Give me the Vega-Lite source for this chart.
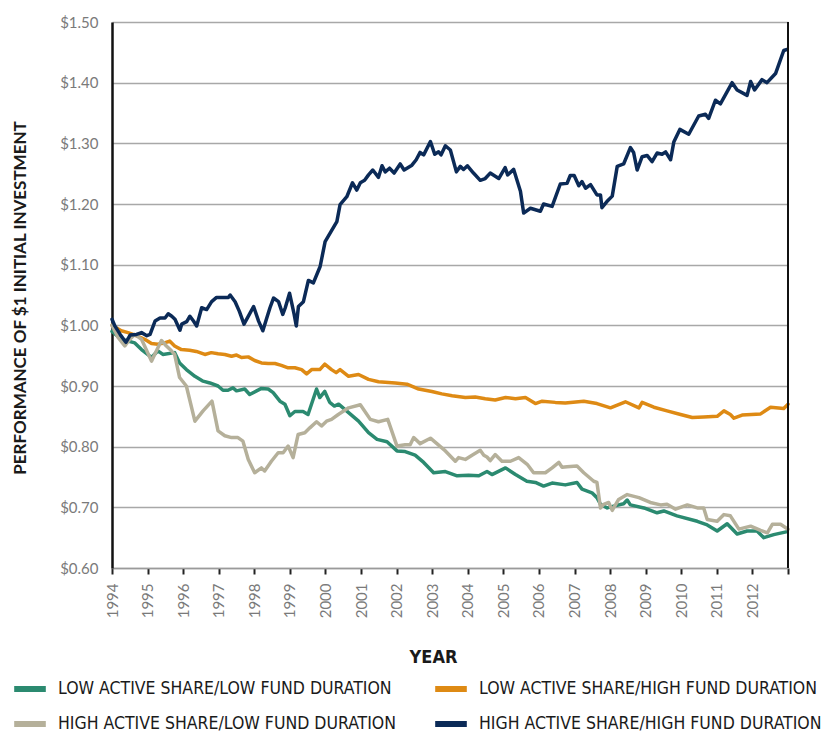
{
  "$schema": "https://vega.github.io/schema/vega-lite/v6.json",
  "width": 676,
  "height": 546,
  "autosize": {"type": "none"},
  "padding": {"left": 112, "top": 22, "right": 49, "bottom": 164},
  "background": "white",
  "config": {
    "view": {"stroke": null},
    "font": "Lato",
    "axisX": {"labelOverlap": false, "labelFlush": false, "labelBound": false}
  },
  "datasets": {
    "lines": [
      {"s":"LL","t":1994.0,"v":0.99},{"s":"LL","t":1994.26,"v":0.977},{"s":"LL","t":1994.64,"v":0.971},{"s":"LL","t":1994.83,"v":0.96},{"s":"LL","t":1995.11,"v":0.947},{"s":"LL","t":1995.29,"v":0.958},{"s":"LL","t":1995.43,"v":0.952},{"s":"LL","t":1995.76,"v":0.955},{"s":"LL","t":1995.9,"v":0.938},{"s":"LL","t":1996.09,"v":0.927},{"s":"LL","t":1996.33,"v":0.916},{"s":"LL","t":1996.56,"v":0.908},{"s":"LL","t":1996.75,"v":0.905},{"s":"LL","t":1996.98,"v":0.9},{"s":"LL","t":1997.12,"v":0.893},{"s":"LL","t":1997.26,"v":0.893},{"s":"LL","t":1997.4,"v":0.897},{"s":"LL","t":1997.5,"v":0.892},{"s":"LL","t":1997.73,"v":0.895},{"s":"LL","t":1997.87,"v":0.886},{"s":"LL","t":1998.2,"v":0.896},{"s":"LL","t":1998.39,"v":0.895},{"s":"LL","t":1998.53,"v":0.889},{"s":"LL","t":1998.72,"v":0.875},{"s":"LL","t":1998.86,"v":0.87},{"s":"LL","t":1999.0,"v":0.851},{"s":"LL","t":1999.14,"v":0.858},{"s":"LL","t":1999.37,"v":0.858},{"s":"LL","t":1999.51,"v":0.853},{"s":"LL","t":1999.75,"v":0.895},{"s":"LL","t":1999.84,"v":0.881},{"s":"LL","t":1999.98,"v":0.891},{"s":"LL","t":2000.12,"v":0.873},{"s":"LL","t":2000.25,"v":0.867},{"s":"LL","t":2000.37,"v":0.87},{"s":"LL","t":2000.65,"v":0.856},{"s":"LL","t":2000.93,"v":0.842},{"s":"LL","t":2001.21,"v":0.823},{"s":"LL","t":2001.45,"v":0.812},{"s":"LL","t":2001.73,"v":0.808},{"s":"LL","t":2002.01,"v":0.793},{"s":"LL","t":2002.24,"v":0.792},{"s":"LL","t":2002.52,"v":0.786},{"s":"LL","t":2002.76,"v":0.774},{"s":"LL","t":2003.04,"v":0.757},{"s":"LL","t":2003.37,"v":0.759},{"s":"LL","t":2003.7,"v":0.752},{"s":"LL","t":2004.02,"v":0.753},{"s":"LL","t":2004.31,"v":0.752},{"s":"LL","t":2004.54,"v":0.759},{"s":"LL","t":2004.68,"v":0.754},{"s":"LL","t":2005.06,"v":0.765},{"s":"LL","t":2005.34,"v":0.754},{"s":"LL","t":2005.66,"v":0.743},{"s":"LL","t":2005.9,"v":0.741},{"s":"LL","t":2006.13,"v":0.735},{"s":"LL","t":2006.37,"v":0.74},{"s":"LL","t":2006.74,"v":0.737},{"s":"LL","t":2007.07,"v":0.741},{"s":"LL","t":2007.21,"v":0.73},{"s":"LL","t":2007.49,"v":0.724},{"s":"LL","t":2007.63,"v":0.716},{"s":"LL","t":2007.73,"v":0.705},{"s":"LL","t":2007.92,"v":0.699},{"s":"LL","t":2008.1,"v":0.702},{"s":"LL","t":2008.38,"v":0.706},{"s":"LL","t":2008.48,"v":0.712},{"s":"LL","t":2008.57,"v":0.704},{"s":"LL","t":2008.95,"v":0.699},{"s":"LL","t":2009.32,"v":0.691},{"s":"LL","t":2009.51,"v":0.694},{"s":"LL","t":2009.88,"v":0.686},{"s":"LL","t":2010.45,"v":0.677},{"s":"LL","t":2010.73,"v":0.671},{"s":"LL","t":2011.01,"v":0.661},{"s":"LL","t":2011.29,"v":0.673},{"s":"LL","t":2011.57,"v":0.656},{"s":"LL","t":2011.85,"v":0.661},{"s":"LL","t":2012.13,"v":0.661},{"s":"LL","t":2012.32,"v":0.65},{"s":"LL","t":2012.6,"v":0.655},{"s":"LL","t":2012.98,"v":0.66},

      {"s":"LH","t":1994.0,"v":1.0},{"s":"LH","t":1994.26,"v":0.991},{"s":"LH","t":1994.45,"v":0.988},{"s":"LH","t":1994.73,"v":0.982},{"s":"LH","t":1994.92,"v":0.977},{"s":"LH","t":1995.11,"v":0.97},{"s":"LH","t":1995.29,"v":0.969},{"s":"LH","t":1995.48,"v":0.971},{"s":"LH","t":1995.62,"v":0.974},{"s":"LH","t":1995.76,"v":0.966},{"s":"LH","t":1995.95,"v":0.96},{"s":"LH","t":1996.18,"v":0.959},{"s":"LH","t":1996.37,"v":0.957},{"s":"LH","t":1996.61,"v":0.952},{"s":"LH","t":1996.79,"v":0.955},{"s":"LH","t":1996.98,"v":0.953},{"s":"LH","t":1997.17,"v":0.952},{"s":"LH","t":1997.36,"v":0.949},{"s":"LH","t":1997.5,"v":0.951},{"s":"LH","t":1997.64,"v":0.947},{"s":"LH","t":1997.83,"v":0.948},{"s":"LH","t":1998.01,"v":0.942},{"s":"LH","t":1998.2,"v":0.938},{"s":"LH","t":1998.39,"v":0.937},{"s":"LH","t":1998.58,"v":0.937},{"s":"LH","t":1998.76,"v":0.934},{"s":"LH","t":1998.95,"v":0.93},{"s":"LH","t":1999.14,"v":0.93},{"s":"LH","t":1999.33,"v":0.927},{"s":"LH","t":1999.47,"v":0.92},{"s":"LH","t":1999.61,"v":0.927},{"s":"LH","t":1999.84,"v":0.927},{"s":"LH","t":1999.98,"v":0.936},{"s":"LH","t":2000.17,"v":0.927},{"s":"LH","t":2000.3,"v":0.922},{"s":"LH","t":2000.41,"v":0.927},{"s":"LH","t":2000.65,"v":0.916},{"s":"LH","t":2000.93,"v":0.919},{"s":"LH","t":2001.21,"v":0.911},{"s":"LH","t":2001.49,"v":0.907},{"s":"LH","t":2001.96,"v":0.905},{"s":"LH","t":2002.29,"v":0.903},{"s":"LH","t":2002.62,"v":0.895},{"s":"LH","t":2002.99,"v":0.891},{"s":"LH","t":2003.27,"v":0.887},{"s":"LH","t":2003.56,"v":0.884},{"s":"LH","t":2003.93,"v":0.881},{"s":"LH","t":2004.21,"v":0.882},{"s":"LH","t":2004.49,"v":0.879},{"s":"LH","t":2004.77,"v":0.877},{"s":"LH","t":2005.06,"v":0.881},{"s":"LH","t":2005.34,"v":0.879},{"s":"LH","t":2005.62,"v":0.881},{"s":"LH","t":2005.9,"v":0.871},{"s":"LH","t":2006.09,"v":0.875},{"s":"LH","t":2006.46,"v":0.873},{"s":"LH","t":2006.74,"v":0.872},{"s":"LH","t":2007.26,"v":0.875},{"s":"LH","t":2007.63,"v":0.871},{"s":"LH","t":2008.01,"v":0.864},{"s":"LH","t":2008.43,"v":0.874},{"s":"LH","t":2008.81,"v":0.864},{"s":"LH","t":2008.9,"v":0.873},{"s":"LH","t":2009.23,"v":0.865},{"s":"LH","t":2009.6,"v":0.859},{"s":"LH","t":2009.98,"v":0.853},{"s":"LH","t":2010.31,"v":0.848},{"s":"LH","t":2010.63,"v":0.849},{"s":"LH","t":2011.01,"v":0.85},{"s":"LH","t":2011.2,"v":0.859},{"s":"LH","t":2011.38,"v":0.853},{"s":"LH","t":2011.48,"v":0.847},{"s":"LH","t":2011.71,"v":0.852},{"s":"LH","t":2012.23,"v":0.854},{"s":"LH","t":2012.51,"v":0.865},{"s":"LH","t":2012.88,"v":0.863},{"s":"LH","t":2013.0,"v":0.87},

      {"s":"HL","t":1994.0,"v":1.0},{"s":"HL","t":1994.17,"v":0.98},{"s":"HL","t":1994.36,"v":0.966},{"s":"HL","t":1994.5,"v":0.977},{"s":"HL","t":1994.64,"v":0.985},{"s":"HL","t":1994.83,"v":0.977},{"s":"HL","t":1995.11,"v":0.941},{"s":"HL","t":1995.25,"v":0.958},{"s":"HL","t":1995.39,"v":0.975},{"s":"HL","t":1995.53,"v":0.966},{"s":"HL","t":1995.67,"v":0.958},{"s":"HL","t":1995.76,"v":0.952},{"s":"HL","t":1995.9,"v":0.914},{"s":"HL","t":1996.09,"v":0.9},{"s":"HL","t":1996.33,"v":0.842},{"s":"HL","t":1996.56,"v":0.859},{"s":"HL","t":1996.81,"v":0.875},{"s":"HL","t":1996.98,"v":0.826},{"s":"HL","t":1997.17,"v":0.818},{"s":"HL","t":1997.36,"v":0.815},{"s":"HL","t":1997.54,"v":0.815},{"s":"HL","t":1997.68,"v":0.809},{"s":"HL","t":1997.83,"v":0.779},{"s":"HL","t":1998.01,"v":0.757},{"s":"HL","t":1998.2,"v":0.765},{"s":"HL","t":1998.29,"v":0.76},{"s":"HL","t":1998.48,"v":0.776},{"s":"HL","t":1998.67,"v":0.79},{"s":"HL","t":1998.81,"v":0.79},{"s":"HL","t":1998.95,"v":0.801},{"s":"HL","t":1999.09,"v":0.782},{"s":"HL","t":1999.23,"v":0.82},{"s":"HL","t":1999.42,"v":0.823},{"s":"HL","t":1999.56,"v":0.831},{"s":"HL","t":1999.75,"v":0.841},{"s":"HL","t":1999.89,"v":0.834},{"s":"HL","t":2000.03,"v":0.842},{"s":"HL","t":2000.17,"v":0.845},{"s":"HL","t":2000.36,"v":0.853},{"s":"HL","t":2000.65,"v":0.864},{"s":"HL","t":2000.98,"v":0.869},{"s":"HL","t":2001.26,"v":0.845},{"s":"HL","t":2001.49,"v":0.841},{"s":"HL","t":2001.75,"v":0.845},{"s":"HL","t":2002.01,"v":0.801},{"s":"HL","t":2002.24,"v":0.803},{"s":"HL","t":2002.38,"v":0.803},{"s":"HL","t":2002.48,"v":0.815},{"s":"HL","t":2002.66,"v":0.805},{"s":"HL","t":2002.95,"v":0.814},{"s":"HL","t":2003.37,"v":0.793},{"s":"HL","t":2003.65,"v":0.776},{"s":"HL","t":2003.74,"v":0.782},{"s":"HL","t":2003.93,"v":0.779},{"s":"HL","t":2004.12,"v":0.786},{"s":"HL","t":2004.35,"v":0.794},{"s":"HL","t":2004.45,"v":0.786},{"s":"HL","t":2004.54,"v":0.783},{"s":"HL","t":2004.63,"v":0.777},{"s":"HL","t":2004.77,"v":0.787},{"s":"HL","t":2004.96,"v":0.776},{"s":"HL","t":2005.2,"v":0.776},{"s":"HL","t":2005.43,"v":0.782},{"s":"HL","t":2005.67,"v":0.771},{"s":"HL","t":2005.85,"v":0.757},{"s":"HL","t":2006.18,"v":0.757},{"s":"HL","t":2006.37,"v":0.765},{"s":"HL","t":2006.56,"v":0.774},{"s":"HL","t":2006.65,"v":0.766},{"s":"HL","t":2006.79,"v":0.767},{"s":"HL","t":2007.07,"v":0.768},{"s":"HL","t":2007.26,"v":0.757},{"s":"HL","t":2007.54,"v":0.743},{"s":"HL","t":2007.63,"v":0.741},{"s":"HL","t":2007.73,"v":0.699},{"s":"HL","t":2007.82,"v":0.705},{"s":"HL","t":2007.96,"v":0.708},{"s":"HL","t":2008.06,"v":0.695},{"s":"HL","t":2008.24,"v":0.713},{"s":"HL","t":2008.48,"v":0.721},{"s":"HL","t":2008.81,"v":0.716},{"s":"HL","t":2009.13,"v":0.708},{"s":"HL","t":2009.42,"v":0.704},{"s":"HL","t":2009.6,"v":0.705},{"s":"HL","t":2009.84,"v":0.697},{"s":"HL","t":2010.17,"v":0.704},{"s":"HL","t":2010.45,"v":0.699},{"s":"HL","t":2010.63,"v":0.699},{"s":"HL","t":2010.73,"v":0.68},{"s":"HL","t":2011.01,"v":0.677},{"s":"HL","t":2011.2,"v":0.688},{"s":"HL","t":2011.38,"v":0.686},{"s":"HL","t":2011.62,"v":0.664},{"s":"HL","t":2011.95,"v":0.669},{"s":"HL","t":2012.23,"v":0.662},{"s":"HL","t":2012.42,"v":0.658},{"s":"HL","t":2012.56,"v":0.672},{"s":"HL","t":2012.79,"v":0.672},{"s":"HL","t":2013.0,"v":0.664},

      {"s":"HH","t":1994.0,"v":1.01},{"s":"HH","t":1994.08,"v":0.999},{"s":"HH","t":1994.23,"v":0.985},{"s":"HH","t":1994.39,"v":0.972},{"s":"HH","t":1994.51,"v":0.984},{"s":"HH","t":1994.69,"v":0.985},{"s":"HH","t":1994.83,"v":0.988},{"s":"HH","t":1994.98,"v":0.983},{"s":"HH","t":1995.07,"v":0.985},{"s":"HH","t":1995.21,"v":1.007},{"s":"HH","t":1995.35,"v":1.012},{"s":"HH","t":1995.49,"v":1.012},{"s":"HH","t":1995.58,"v":1.019},{"s":"HH","t":1995.68,"v":1.015},{"s":"HH","t":1995.77,"v":1.01},{"s":"HH","t":1995.91,"v":0.992},{"s":"HH","t":1995.96,"v":1.002},{"s":"HH","t":1996.1,"v":1.006},{"s":"HH","t":1996.19,"v":1.015},{"s":"HH","t":1996.29,"v":1.007},{"s":"HH","t":1996.38,"v":0.999},{"s":"HH","t":1996.52,"v":1.029},{"s":"HH","t":1996.66,"v":1.026},{"s":"HH","t":1996.8,"v":1.039},{"s":"HH","t":1996.94,"v":1.046},{"s":"HH","t":1997.13,"v":1.046},{"s":"HH","t":1997.27,"v":1.046},{"s":"HH","t":1997.32,"v":1.05},{"s":"HH","t":1997.46,"v":1.039},{"s":"HH","t":1997.58,"v":1.023},{"s":"HH","t":1997.71,"v":1.002},{"s":"HH","t":1997.86,"v":1.018},{"s":"HH","t":1997.98,"v":1.031},{"s":"HH","t":1998.12,"v":1.007},{"s":"HH","t":1998.24,"v":0.991},{"s":"HH","t":1998.35,"v":1.012},{"s":"HH","t":1998.44,"v":1.029},{"s":"HH","t":1998.54,"v":1.045},{"s":"HH","t":1998.68,"v":1.039},{"s":"HH","t":1998.8,"v":1.018},{"s":"HH","t":1998.87,"v":1.029},{"s":"HH","t":1998.99,"v":1.053},{"s":"HH","t":1999.05,"v":1.037},{"s":"HH","t":1999.12,"v":1.018},{"s":"HH","t":1999.18,"v":0.999},{"s":"HH","t":1999.24,"v":1.031},{"s":"HH","t":1999.38,"v":1.039},{"s":"HH","t":1999.52,"v":1.074},{"s":"HH","t":1999.66,"v":1.07},{"s":"HH","t":1999.85,"v":1.097},{"s":"HH","t":1999.99,"v":1.138},{"s":"HH","t":2000.13,"v":1.152},{"s":"HH","t":2000.32,"v":1.171},{"s":"HH","t":2000.41,"v":1.199},{"s":"HH","t":2000.6,"v":1.212},{"s":"HH","t":2000.76,"v":1.235},{"s":"HH","t":2000.88,"v":1.223},{"s":"HH","t":2000.98,"v":1.235},{"s":"HH","t":2001.1,"v":1.239},{"s":"HH","t":2001.21,"v":1.248},{"s":"HH","t":2001.33,"v":1.256},{"s":"HH","t":2001.49,"v":1.244},{"s":"HH","t":2001.59,"v":1.263},{"s":"HH","t":2001.68,"v":1.253},{"s":"HH","t":2001.8,"v":1.259},{"s":"HH","t":2001.93,"v":1.251},{"s":"HH","t":2002.1,"v":1.266},{"s":"HH","t":2002.21,"v":1.256},{"s":"HH","t":2002.43,"v":1.264},{"s":"HH","t":2002.55,"v":1.273},{"s":"HH","t":2002.66,"v":1.285},{"s":"HH","t":2002.76,"v":1.281},{"s":"HH","t":2002.95,"v":1.303},{"s":"HH","t":2003.07,"v":1.282},{"s":"HH","t":2003.18,"v":1.286},{"s":"HH","t":2003.25,"v":1.281},{"s":"HH","t":2003.37,"v":1.296},{"s":"HH","t":2003.51,"v":1.289},{"s":"HH","t":2003.68,"v":1.253},{"s":"HH","t":2003.79,"v":1.262},{"s":"HH","t":2003.88,"v":1.257},{"s":"HH","t":2003.99,"v":1.263},{"s":"HH","t":2004.16,"v":1.251},{"s":"HH","t":2004.35,"v":1.239},{"s":"HH","t":2004.49,"v":1.242},{"s":"HH","t":2004.63,"v":1.251},{"s":"HH","t":2004.87,"v":1.242},{"s":"HH","t":2005.05,"v":1.26},{"s":"HH","t":2005.12,"v":1.248},{"s":"HH","t":2005.29,"v":1.257},{"s":"HH","t":2005.48,"v":1.221},{"s":"HH","t":2005.57,"v":1.185},{"s":"HH","t":2005.76,"v":1.193},{"s":"HH","t":2006.04,"v":1.188},{"s":"HH","t":2006.13,"v":1.2},{"s":"HH","t":2006.37,"v":1.196},{"s":"HH","t":2006.6,"v":1.233},{"s":"HH","t":2006.79,"v":1.234},{"s":"HH","t":2006.88,"v":1.247},{"s":"HH","t":2006.99,"v":1.247},{"s":"HH","t":2007.12,"v":1.23},{"s":"HH","t":2007.21,"v":1.237},{"s":"HH","t":2007.31,"v":1.226},{"s":"HH","t":2007.45,"v":1.232},{"s":"HH","t":2007.63,"v":1.215},{"s":"HH","t":2007.73,"v":1.215},{"s":"HH","t":2007.77,"v":1.194},{"s":"HH","t":2007.91,"v":1.204},{"s":"HH","t":2008.06,"v":1.213},{"s":"HH","t":2008.2,"v":1.262},{"s":"HH","t":2008.38,"v":1.266},{"s":"HH","t":2008.57,"v":1.293},{"s":"HH","t":2008.66,"v":1.285},{"s":"HH","t":2008.76,"v":1.256},{"s":"HH","t":2008.9,"v":1.278},{"s":"HH","t":2009.04,"v":1.28},{"s":"HH","t":2009.18,"v":1.27},{"s":"HH","t":2009.32,"v":1.284},{"s":"HH","t":2009.46,"v":1.282},{"s":"HH","t":2009.56,"v":1.286},{"s":"HH","t":2009.7,"v":1.273},{"s":"HH","t":2009.79,"v":1.302},{"s":"HH","t":2009.96,"v":1.323},{"s":"HH","t":2010.21,"v":1.315},{"s":"HH","t":2010.49,"v":1.345},{"s":"HH","t":2010.68,"v":1.348},{"s":"HH","t":2010.77,"v":1.341},{"s":"HH","t":2010.96,"v":1.371},{"s":"HH","t":2011.1,"v":1.365},{"s":"HH","t":2011.43,"v":1.4},{"s":"HH","t":2011.57,"v":1.388},{"s":"HH","t":2011.85,"v":1.379},{"s":"HH","t":2011.95,"v":1.402},{"s":"HH","t":2012.06,"v":1.388},{"s":"HH","t":2012.27,"v":1.405},{"s":"HH","t":2012.41,"v":1.4},{"s":"HH","t":2012.65,"v":1.415},{"s":"HH","t":2012.88,"v":1.453},{"s":"HH","t":2012.98,"v":1.455}
    ]
  },
  "encoding": {
    "x": {
      "field": "t", "type": "quantitative",
      "scale": {"domain": [1994, 2013], "nice": false, "zero": false},
      "axis": {
        "title": "YEAR",
        "values": [1994,1995,1996,1997,1998,1999,2000,2001,2002,2003,2004,2005,2006,2007,2008,2009,2010,2011,2012,2013],
        "labelExpr": "datum.value == 2013 ? '' : '' + datum.value",
        "labelAngle": 270,
        "labelOverlap": false,
        "labelFlush": false,
        "labelFontSize": 15,
        "labelColor": "#7a7a7a",
        "labelFont": "Lato",
        "labelPadding": 9,
        "grid": false,
        "domainColor": "#9a9a9a",
        "domainWidth": 1.5,
        "tickColor": "#222222",
        "tickWidth": 2,
        "tickSize": 6,
        "titleFont": "DejaVu Sans Condensed",
        "titleFontSize": 18,
        "titleFontWeight": "bold",
        "titleColor": "#1a1a1a",
        "titleX": 321,
        "titleY": 89,
        "titleBaseline": "middle"
      }
    }
  },
  "layer": [
    {
      "data": {"name": "lines"},
      "mark": {"type": "line", "strokeWidth": 3.5, "strokeJoin": "round", "strokeCap": "round"},
      "encoding": {
        "y": {
          "field": "v", "type": "quantitative",
          "scale": {"domain": [0.6, 1.5], "nice": false, "zero": false},
          "axis": {
            "title": "PERFORMANCE OF $1 INITIAL INVESTMENT",
            "values": [0.6,0.7,0.8,0.9,1.0,1.1,1.2,1.3,1.4,1.5],
            "format": "$.2f",
            "labelFontSize": 15,
            "labelColor": "#7a7a7a",
            "labelFont": "Lato",
            "labelPadding": 14,
            "ticks": false,
            "domainColor": "#111111",
            "domainWidth": 2.5,
            "gridColor": "#a8a8a8",
            "gridWidth": 1.5,
            "titleFont": "Lato",
            "titleFontSize": 17,
            "titleFontWeight": "bold",
            "titleColor": "#1a1a1a",
            "titleX": -92,
            "titleY": 275.5,
            "titleAngle": -90,
            "titleBaseline": "middle"
          }
        },
        "color": {
          "field": "s", "type": "nominal",
          "scale": {"domain": ["LL","HL","LH","HH"], "range": ["#2b8a70","#b5b09a","#de8a14","#0b2a57"]},
          "legend": {
            "title": null,
            "orient": "none",
            "legendX": -101,
            "legendY": 648,
            "columns": 2,
            "columnPadding": 26,
            "rowPadding": 4,
            "symbolType": "stroke",
            "symbolSize": 1000,
            "symbolStrokeWidth": 6,
            "labelOffset": 9,
            "labelFont": "DejaVu Sans Condensed",
            "labelFontSize": 17.5,
            "labelColor": "#1a1a1a",
            "labelLimit": 500,
            "labelExpr": "{'LL':'LOW ACTIVE SHARE/LOW FUND DURATION','LH':'LOW ACTIVE SHARE/HIGH FUND DURATION','HL':'HIGH ACTIVE SHARE/LOW FUND DURATION','HH':'HIGH ACTIVE SHARE/HIGH FUND DURATION'}[datum.value]"
          }
        },
        "order": {"field": "t", "type": "quantitative"}
      }
    },
    {
      "data": {"values": [{"t": 2013}]},
      "mark": {"type": "rule", "color": "#111111", "strokeWidth": 2},
      "encoding": {}
    }
  ]
}
